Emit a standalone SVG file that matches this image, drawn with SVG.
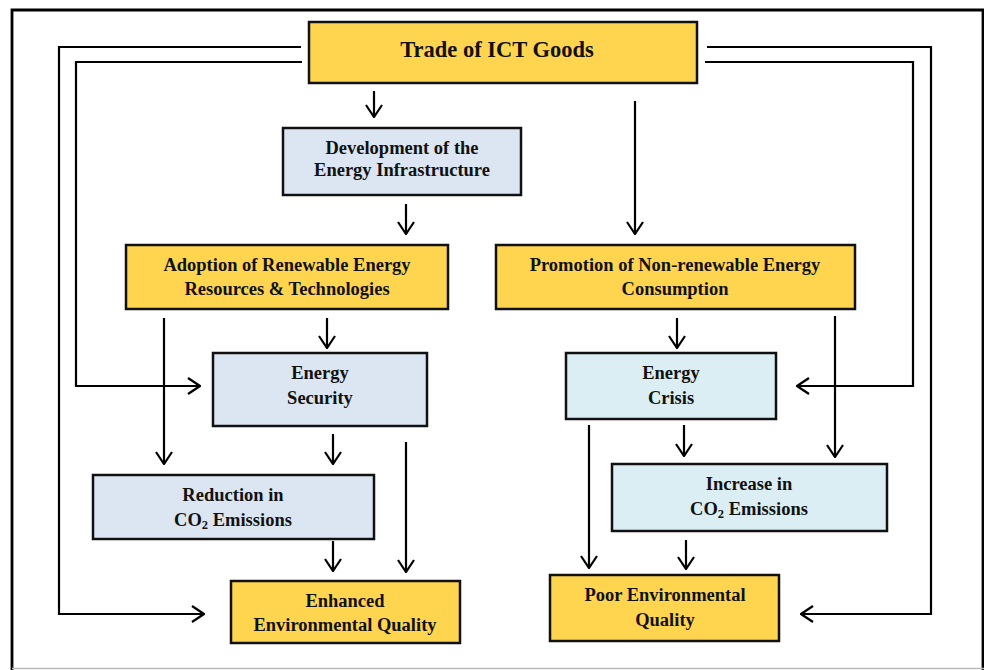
<svg xmlns="http://www.w3.org/2000/svg" width="984" height="670" viewBox="0 0 984 670">
<defs>
<style>
.y{fill:#FFD54F;stroke:#111;stroke-width:2.5}
.b{fill:#DCE6F2;stroke:#111;stroke-width:2.5}
.c{fill:#DAEEF3;stroke:#111;stroke-width:2.5}
.t{font-family:"Liberation Serif","Times New Roman",serif;font-weight:bold;font-size:18.5px;fill:#111;text-anchor:middle}
.ln{fill:none;stroke:#000;stroke-width:2.2}
</style>
<marker id="a" markerUnits="userSpaceOnUse" viewBox="0 0 14 18" refX="13" refY="9" markerWidth="14" markerHeight="18" orient="auto">
<path d="M1,1 L13,9 L1,17" fill="none" stroke="#000" stroke-width="2.2"/>
</marker>
</defs>
<rect width="984" height="670" fill="#fff"/>
<g id="frame">
<path d="M12,670 L12,10 L983,10 L983,670" fill="none" stroke="#000" stroke-width="2.8"/>
<line x1="12" y1="668.5" x2="984" y2="668.5" stroke="#bbb" stroke-width="1.5"/>
</g>
<g id="connectors">
<path class="ln" d="M301,47 H59 V614 H204" marker-end="url(#a)"/>
<path class="ln" d="M302,62 H76 V386 H200" marker-end="url(#a)"/>
<path class="ln" d="M707,47 H931 V614 H801" marker-end="url(#a)"/>
<path class="ln" d="M705,62 H913 V386 H797" marker-end="url(#a)"/>
<path class="ln" d="M374,91 V117" marker-end="url(#a)"/>
<path class="ln" d="M406,204 V234" marker-end="url(#a)"/>
<path class="ln" d="M635,101 V234" marker-end="url(#a)"/>
<path class="ln" d="M327,318 V348" marker-end="url(#a)"/>
<path class="ln" d="M164,318 V464" marker-end="url(#a)"/>
<path class="ln" d="M333,434 V464" marker-end="url(#a)"/>
<path class="ln" d="M406,442 V572" marker-end="url(#a)"/>
<path class="ln" d="M333,541 V571" marker-end="url(#a)"/>
<path class="ln" d="M677,318 V348" marker-end="url(#a)"/>
<path class="ln" d="M835,316 V457" marker-end="url(#a)"/>
<path class="ln" d="M684,425 V456" marker-end="url(#a)"/>
<path class="ln" d="M589,425 V568" marker-end="url(#a)"/>
<path class="ln" d="M686,540 V569" marker-end="url(#a)"/>
</g>
<g id="trade">
<rect class="y" x="309" y="22" width="388" height="61"/>
<text class="t" x="497" y="57" style="font-size:22.5px">Trade of ICT Goods</text>
</g>
<g id="development">
<rect class="b" x="283" y="128" width="238" height="67"/>
<text class="t" x="402" y="154">Development of the</text>
<text class="t" x="402" y="176">Energy Infrastructure</text>
</g>
<g id="adoption">
<rect class="y" x="126" y="245" width="322" height="64"/>
<text class="t" x="287" y="271">Adoption of Renewable Energy</text>
<text class="t" x="287" y="295">Resources &amp; Technologies</text>
</g>
<g id="promotion">
<rect class="y" x="496" y="245" width="359" height="64"/>
<text class="t" x="675" y="271">Promotion of Non-renewable Energy</text>
<text class="t" x="675" y="295">Consumption</text>
</g>
<g id="security">
<rect class="b" x="213" y="353" width="214" height="73"/>
<text class="t" x="320" y="379">Energy</text>
<text class="t" x="320" y="404">Security</text>
</g>
<g id="crisis">
<rect class="c" x="566" y="353" width="210" height="66"/>
<text class="t" x="671" y="379">Energy</text>
<text class="t" x="671" y="404">Crisis</text>
</g>
<g id="reduction">
<rect class="b" x="93" y="475" width="281" height="64"/>
<text class="t" x="233" y="501">Reduction in</text>
<text class="t" x="233" y="526">CO<tspan font-size="12.5" dy="3">2</tspan><tspan dy="-3"> Emissions</tspan></text>
</g>
<g id="increase">
<rect class="c" x="612" y="464" width="275" height="67"/>
<text class="t" x="749" y="490">Increase in</text>
<text class="t" x="749" y="515">CO<tspan font-size="12.5" dy="3">2</tspan><tspan dy="-3"> Emissions</tspan></text>
</g>
<g id="enhanced">
<rect class="y" x="231" y="581" width="229" height="62"/>
<text class="t" x="345" y="607">Enhanced</text>
<text class="t" x="345" y="631">Environmental Quality</text>
</g>
<g id="poor">
<rect class="y" x="550" y="575" width="229" height="66"/>
<text class="t" x="665" y="601">Poor Environmental</text>
<text class="t" x="665" y="626">Quality</text>
</g>
</svg>
